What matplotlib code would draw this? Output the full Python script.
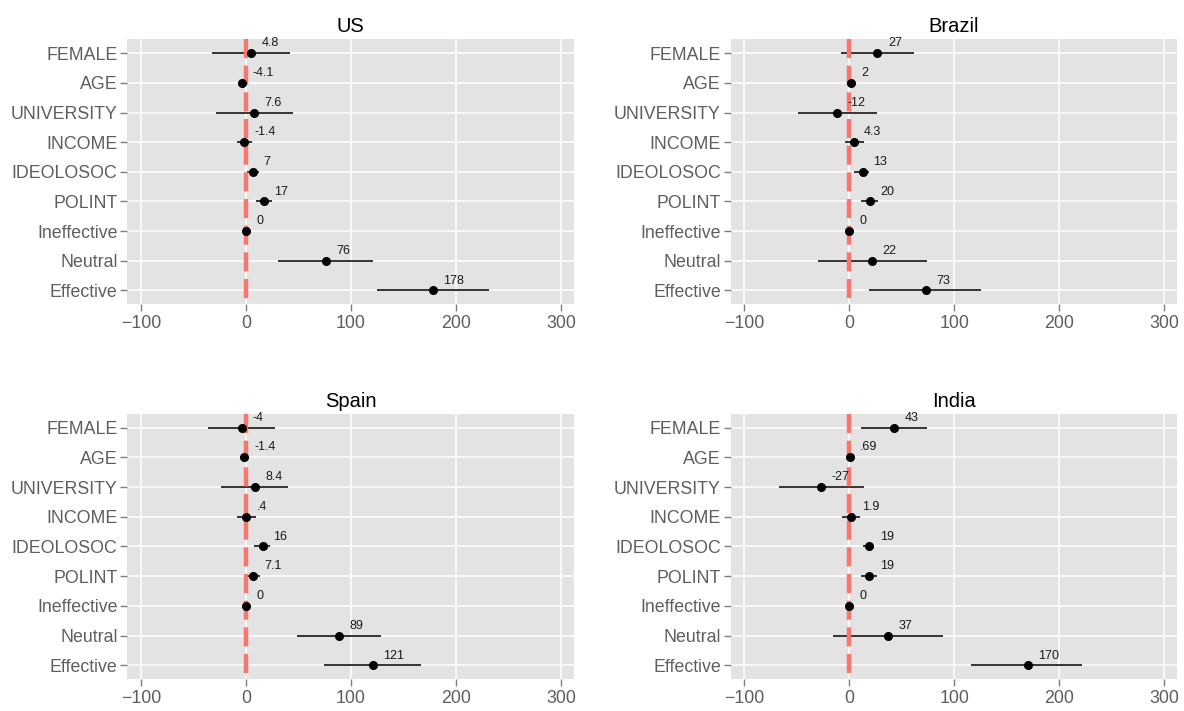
import matplotlib.pyplot as plt

plt.rcParams['font.family'] = ['Liberation Sans', 'DejaVu Sans']
plt.rcParams['lines.scale_dashes'] = False

variables = ["FEMALE", "AGE", "UNIVERSITY", "INCOME", "IDEOLOSOC",
             "POLINT", "Ineffective", "Neutral", "Effective"]

# point estimates, lower / upper bounds, printed labels
us_est = [4.8, -4.1, 7.6, -1.4, 7, 17, 0, 76, 178]
us_lo = [-32, -6, -29, -8.5, 0.7, 10, 0, 30.5, 124.5]
us_hi = [42, -2.2, 45, 5.7, 12.8, 25, 0, 121, 231]
us_lab = ["4.8", "-4.1", "7.6", "-1.4", "7", "17", "0", "76", "178"]

br_est = [27, 2, -12, 4.3, 13, 20, 0, 22, 73]
br_lo = [-7.4, 0, -49, -4.3, 5, 11.3, 0, -30, 18.8]
br_hi = [62, 4, 26.6, 14.2, 19, 27.7, 0, 74.5, 125.5]
br_lab = ["27", "2", "-12", "4.3", "13", "20", "0", "22", "73"]

es_est = [-4, -1.4, 8.4, 0.4, 16, 7.1, 0, 89, 121]
es_lo = [-36, -3, -24, -8.5, 7.8, 0.7, 0, 49, 74.5]
es_hi = [28, 0.2, 40.4, 9.2, 22.7, 13.8, 0, 129, 166.7]
es_lab = ["-4", "-1.4", "8.4", ".4", "16", "7.1", "0", "89", "121"]

in_est = [43, 0.69, -27, 1.9, 19, 19, 0, 37, 170]
in_lo = [11, -0.9, -67, -7, 12.8, 11.3, 0, -15.6, 115.6]
in_hi = [73.8, 2.3, 13.8, 10.6, 23.4, 27, 0, 89, 221.6]
in_lab = ["43", ".69", "-27", "1.9", "19", "19", "0", "37", "170"]

panels = [
    ("US", us_est, us_lo, us_hi, us_lab),
    ("Brazil", br_est, br_lo, br_hi, br_lab),
    ("Spain", es_est, es_lo, es_hi, es_lab),
    ("India", in_est, in_lo, in_hi, in_lab),
]

W, H = 1184, 711
fig = plt.figure(figsize=(W / 100, H / 100), dpi=100)

# panel boxes in pixels: left, top, right, bottom
boxes = [
    (127.3, 39.3, 573.6, 304.3),
    (730.5, 39.3, 1176.7, 304.3),
    (127.3, 413.6, 573.6, 679.3),
    (730.5, 413.6, 1176.7, 679.3),
]

ypos = list(range(len(variables)))

for (title, est, lo, hi, lab), (l, t, r, b) in zip(panels, boxes):
    ax = fig.add_axes([l / W, 1 - b / H, (r - l) / W, (b - t) / H])
    ax.set_facecolor('#E3E3E3')
    for s in ax.spines.values():
        s.set_visible(False)
    ax.set_axisbelow(True)
    ax.grid(color='white', linewidth=1.1)

    ax.hlines(ypos, lo, hi, color='black', linewidth=1.1, zorder=2)
    ax.plot([0, 0], [-0.47, 8.47], color='#F8766D', linewidth=3.2,
            dashes=(13.7, 5.5), zorder=3)
    ax.plot(est, ypos, 'o', color='black', markersize=5.5, zorder=4)
    for x, y, txt in zip(est, ypos, lab):
        ax.text(x + 10, y - 0.33, txt, fontsize=9, ha='left',
                va='center', color='#1a1a1a', zorder=5)

    ax.set_xlim(-113, 312)
    ax.set_ylim(8.47, -0.47)
    ax.set_xticks([-100, 0, 100, 200, 300])
    ax.set_yticks(ypos)
    ax.set_yticklabels(variables)
    ax.tick_params(axis='both', colors='#7f7f7f', labelcolor='#5e5e5e',
                   labelsize=12.8, length=5, width=1)
    ax.tick_params(axis='y', pad=2)
    ax.tick_params(axis='x', pad=3)
    ax.set_title(title, fontsize=14.5, pad=5)

fig.savefig("out.png", dpi=100)
